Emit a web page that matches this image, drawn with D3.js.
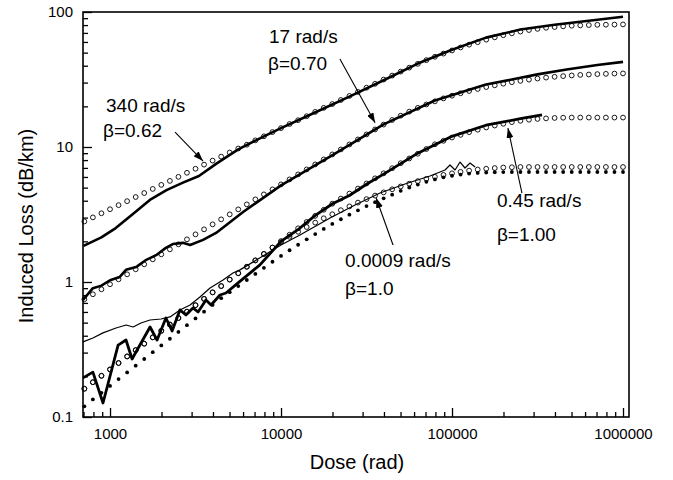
<!DOCTYPE html>
<html lang="en">
<head>
<meta charset="utf-8">
<title>Induced loss vs dose</title>
<script src="https://cdn.jsdelivr.net/npm/d3@7/dist/d3.min.js"></script>
<style>
  body { margin: 0; background: #fff; }
  text { font-family: "Liberation Sans", Arial, sans-serif; fill: #000; }
</style>
</head>
<body>
<script>
var w = 673, h = 480;

// ticks
var majorX = [1000, 10000, 100000, 1000000];
var minorX = [700, 800, 900, 2000, 3000, 4000, 5000, 6000, 7000, 8000, 9000,
              20000, 30000, 40000, 50000, 60000, 70000, 80000, 90000,
              200000, 300000, 400000, 500000, 600000, 700000, 800000, 900000];
var majorY = [0.1, 1, 10, 100];
var minorY = [0.2, 0.3, 0.4, 0.5, 0.6, 0.7, 0.8, 0.9, 2, 3, 4, 5, 6, 7, 8, 9,
              20, 30, 40, 50, 60, 70, 80, 90];

// model curves (open circles / dots), shared dose grid
var fitDose = [708, 794, 891, 1000, 1122, 1259, 1413, 1585, 1778, 1995, 2239, 2512, 2818, 3162, 3548, 3981,
  4467, 5012, 5623, 6310, 7079, 7943, 8913, 10000, 11220, 12590, 14130, 15850, 17780, 19950, 22390,
  25120, 28180, 31620, 35480, 39810, 44670, 50120, 56230, 63100, 70790, 79430, 89130, 100000,
  112200, 125900, 141300, 158500, 177800, 199500, 223900, 251200, 281800, 316200, 354800, 398100,
  446700, 501200, 562300, 631000, 707900, 794300, 891300, 1000000];
var fit340 = [2.81, 3.01, 3.23, 3.46, 3.71, 3.97, 4.26, 4.56, 4.89, 5.24, 5.61, 6.01, 6.44, 6.90, 7.40, 7.93,
  8.49, 9.10, 9.75, 10.4, 11.2, 12.0, 12.9, 13.8, 14.8, 15.8, 16.9, 18.2, 19.5, 20.8, 22.3, 23.9, 25.6,
  27.5, 29.4, 31.6, 33.8, 36.2, 38.7, 41.3, 44.0, 46.6, 49.2, 51.9, 54.6, 57.3, 59.8, 62.4, 64.9, 67.3,
  69.5, 71.6, 73.5, 75.0, 76.4, 77.4, 78.3, 79.1, 79.6, 80.0, 80.4, 80.5, 80.7, 80.9];
var fit17 = [0.745, 0.811, 0.883, 0.962, 1.047, 1.140, 1.242, 1.352, 1.472, 1.603, 1.746, 1.901, 2.070,
  2.254, 2.455, 2.673, 2.911, 3.170, 3.451, 3.758, 4.093, 4.457, 4.853, 5.284, 5.754, 6.266, 6.823,
  7.430, 8.091, 8.810, 9.594, 10.45, 11.38, 12.39, 13.49, 14.66, 15.85, 17.06, 18.28, 19.50, 20.65,
  21.78, 22.91, 23.99, 25.00, 26.00, 26.92, 27.80, 28.64, 29.44, 30.20, 30.90, 31.55, 32.14, 32.66,
  33.11, 33.50, 33.88, 34.20, 34.43, 34.67, 34.83, 34.99, 35.08];
var fit045 = [0.162, 0.181, 0.202, 0.225, 0.251, 0.281, 0.313, 0.349, 0.389, 0.435, 0.484, 0.541, 0.603,
  0.673, 0.750, 0.838, 0.933, 1.042, 1.161, 1.297, 1.445, 1.614, 1.799, 2.009, 2.239, 2.500, 2.786,
  3.090, 3.428, 3.802, 4.150, 4.519, 4.920, 5.370, 5.861, 6.383, 6.966, 7.586, 8.222, 8.913, 9.661,
  10.47, 11.12, 11.75, 12.30, 12.88, 13.43, 13.96, 14.42, 14.86, 15.28, 15.63, 15.92, 16.14, 16.29,
  16.41, 16.48, 16.52, 16.52, 16.52, 16.52, 16.52, 16.52, 16.52];
var fit0009 = [0.162, 0.181, 0.202, 0.225, 0.251, 0.281, 0.313, 0.349, 0.389, 0.435, 0.484, 0.541, 0.603,
  0.673, 0.750, 0.838, 0.933, 1.042, 1.161, 1.297, 1.445, 1.614, 1.799, 1.972, 2.163, 2.355, 2.553,
  2.754, 2.965, 3.177, 3.404, 3.631, 3.873, 4.111, 4.365, 4.613, 4.864, 5.105, 5.346, 5.585, 5.808,
  6.012, 6.209, 6.383, 6.546, 6.683, 6.808, 6.902, 6.982, 7.047, 7.079, 7.11, 7.11, 7.11, 7.11, 7.11,
  7.11, 7.11, 7.11, 7.11, 7.11, 7.11, 7.11, 7.11];
var dots0009 = [0.120, 0.135, 0.151, 0.170, 0.191, 0.214, 0.240, 0.269, 0.302, 0.339, 0.380, 0.427, 0.479,
  0.537, 0.603, 0.676, 0.759, 0.841, 0.933, 1.035, 1.148, 1.274, 1.413, 1.560, 1.718, 1.888, 2.070,
  2.265, 2.472, 2.692, 2.917, 3.155, 3.396, 3.648, 3.899, 4.169, 4.436, 4.732, 5.012, 5.272, 5.521,
  5.754, 5.957, 6.124, 6.252, 6.353, 6.427, 6.471, 6.501, 6.516, 6.53, 6.53, 6.53, 6.53, 6.53, 6.53,
  6.53, 6.53, 6.53, 6.53, 6.53, 6.53, 6.53, 6.53];

// measured data (solid lines)
var dose340 = [700, 890, 1080, 1350, 1710, 2140, 2670, 3310, 4170, 5620, 7940, 10000, 15800, 25100, 39800,
  63100, 100000, 158000, 251000, 398000, 631000, 1000000];
var loss340 = [1.85, 2.14, 2.51, 3.16, 4.05, 4.79, 5.45, 6.1, 7.5, 9.6, 12.0, 13.8, 18.0, 23.6, 31.2,
  41.5, 52.5, 64.6, 74.1, 80.4, 86.1, 92.3];
var dose17 = [695, 794, 891, 1000, 1140, 1240, 1420, 1630, 1860, 2120, 2330, 2670, 2940, 3500, 4170, 6000,
  10000, 20000, 39800, 79400, 158000, 316000, 468000, 708000, 1000000];
var loss17 = [0.736, 0.90, 0.94, 1.03, 1.09, 1.23, 1.29, 1.46, 1.58, 1.79, 1.91, 1.95, 1.88, 2.05, 2.31, 3.30,
  5.2, 8.7, 14.7, 22.1, 29.0, 34.5, 37.5, 40.5, 42.7];
var dose045 = [695, 794, 910, 1115, 1240, 1346, 1714, 1884, 2123, 2307, 2564, 2780, 3055, 3273, 3639, 3899,
  4395, 4764, 5610, 7530, 10000, 12600, 15800, 20000, 25100, 31600, 39800, 63100, 100000, 158000,
  251000, 336000];
var loss045 = [0.195, 0.215, 0.127, 0.341, 0.372, 0.269, 0.464, 0.372, 0.541, 0.434, 0.621, 0.570, 0.642,
  0.600, 0.736, 0.676, 0.801, 0.829, 0.984, 1.34, 2.0, 2.45, 3.1, 3.8, 4.37, 5.3, 6.3, 9.0, 12.0, 14.5,
  16.2, 17.3];
var dose0009 = [695, 794, 910, 1084, 1242, 1365, 1517, 1714, 1986, 2244, 2564, 2938, 3357, 3846, 4581, 5236,
  5754, 7534, 10000, 12900, 19360, 27100, 37930, 53090, 74300, 91000, 97300, 104200, 111400, 119100,
  127400, 136500];
var loss0009 = [0.36, 0.385, 0.42, 0.456, 0.48, 0.464, 0.497, 0.523, 0.532, 0.551, 0.621, 0.676, 0.774,
  0.903, 1.035, 1.166, 1.23, 1.51, 1.88, 2.23, 2.98, 3.72, 4.56, 5.32, 6.10, 6.76, 7.36, 6.76, 7.74,
  6.99, 7.61, 7.11];

// annotations (data coordinates)
var labelText = ["340 rad/s", "17 rad/s", "0.45 rad/s", "0.0009 rad/s"];
var labelDose = [948, 8510, 183000, 23700];
var labelLoss = [18.2, 58.9, 3.59, 1.29];
var betaText = ["\u03b2=0.62", "\u03b2=0.70", "\u03b2=1.00", "\u03b2=1.0"];
var betaDose = [910, 8400, 183000, 23700];
var betaLoss = [11.9, 37.2, 2.01, 0.80];
var arrowFrom = [[2400, 12.9], [22100, 44.9], [256500, 4.56], [45200, 1.88]];
var arrowTo = [[3500, 7.87], [35500, 15.1], [212300, 13.8], [36000, 4.19]];

var svg = d3.select("body").append("svg")
  .attr("width", w)
  .attr("height", h);

var x = d3.scaleLog().domain([695, 1084000]).range([83, 629]);
var y = d3.scaleLog().domain([0.1, 100]).range([417, 12]);

// axes, ticks pointing inward
function styleAxis(g) {
  g.select(".domain").remove();
  g.selectAll("line").attr("stroke", "#000").attr("stroke-width", 1.3);
  g.selectAll("text").attr("font-size", "15px").attr("font-family", "Liberation Sans, Arial, sans-serif");
}
svg.append("g").attr("transform", "translate(0,417)")
  .call(d3.axisBottom(x).tickValues(minorX).tickSize(-5).tickFormat(""))
  .call(styleAxis);
svg.append("g").attr("transform", "translate(0,417)")
  .call(d3.axisBottom(x).tickValues(majorX).tickSize(-9).tickPadding(11).tickFormat(function(d) { return d; }))
  .call(styleAxis);
svg.append("g").attr("transform", "translate(83,0)")
  .call(d3.axisLeft(y).tickValues(minorY).tickSize(-5).tickFormat(""))
  .call(styleAxis);
svg.append("g").attr("transform", "translate(83,0)")
  .call(d3.axisLeft(y).tickValues(majorY).tickSize(-9).tickPadding(10).tickFormat(function(d) { return d; }))
  .call(styleAxis);

svg.append("rect")
  .attr("x", 83).attr("y", 12)
  .attr("width", 546).attr("height", 405)
  .attr("fill", "none")
  .attr("stroke", "#000")
  .attr("stroke-width", 1.6);

// measured lines
var line = d3.line()
  .x(function(d) { return x(d[0]); })
  .y(function(d) { return y(d[1]); });

var measured = [
  { dose: dose340, loss: loss340, width: 2.6 },
  { dose: dose17, loss: loss17, width: 2.6 },
  { dose: dose045, loss: loss045, width: 2.8 },
  { dose: dose0009, loss: loss0009, width: 1.2 }
];
measured.forEach(function(s) {
  svg.append("path")
    .datum(d3.zip(s.dose, s.loss))
    .attr("fill", "none")
    .attr("stroke", "#000")
    .attr("stroke-width", s.width)
    .attr("stroke-linejoin", "round")
    .attr("d", line);
});

// model curves: open circles
[fit340, fit17, fit045, fit0009].forEach(function(vals) {
  svg.append("g").selectAll("circle")
    .data(d3.zip(fitDose, vals))
    .enter()
    .append("circle")
    .attr("cx", function(d) { return x(d[0]); })
    .attr("cy", function(d) { return y(d[1]); })
    .attr("r", 2.4)
    .attr("fill", "none")
    .attr("stroke", "#000")
    .attr("stroke-width", 0.9);
});

// dotted model for 0.0009 rad/s
svg.append("g").selectAll("circle")
  .data(d3.zip(fitDose, dots0009))
  .enter()
  .append("circle")
  .attr("cx", function(d) { return x(d[0]); })
  .attr("cy", function(d) { return y(d[1]); })
  .attr("r", 1.9)
  .attr("fill", "#000");

// arrows + labels
svg.append("defs").append("marker")
  .attr("id", "head")
  .attr("markerUnits", "userSpaceOnUse")
  .attr("markerWidth", 10).attr("markerHeight", 7)
  .attr("refX", 10).attr("refY", 3.5)
  .attr("orient", "auto")
  .append("path")
  .attr("d", "M0,0 L10,3.5 L0,7 Z")
  .attr("fill", "#000");

arrowFrom.forEach(function(a, i) {
  svg.append("line")
    .attr("x1", x(a[0])).attr("y1", y(a[1]))
    .attr("x2", x(arrowTo[i][0])).attr("y2", y(arrowTo[i][1]))
    .attr("stroke", "#000")
    .attr("stroke-width", 1.1)
    .attr("marker-end", "url(#head)");
});

labelText.forEach(function(t, i) {
  svg.append("text")
    .attr("x", x(labelDose[i])).attr("y", y(labelLoss[i]))
    .attr("font-size", "19px")
    .text(t);
  svg.append("text")
    .attr("x", x(betaDose[i])).attr("y", y(betaLoss[i]))
    .attr("font-size", "19px")
    .text(betaText[i]);
});

// axis titles
svg.append("text")
  .attr("x", 357).attr("y", 469)
  .attr("text-anchor", "middle")
  .attr("font-size", "20px")
  .text("Dose (rad)");
svg.append("text")
  .attr("transform", "translate(33,226) rotate(-90)")
  .attr("text-anchor", "middle")
  .attr("font-size", "20px")
  .text("Induced Loss (dB/km)");
</script>
</body>
</html>
